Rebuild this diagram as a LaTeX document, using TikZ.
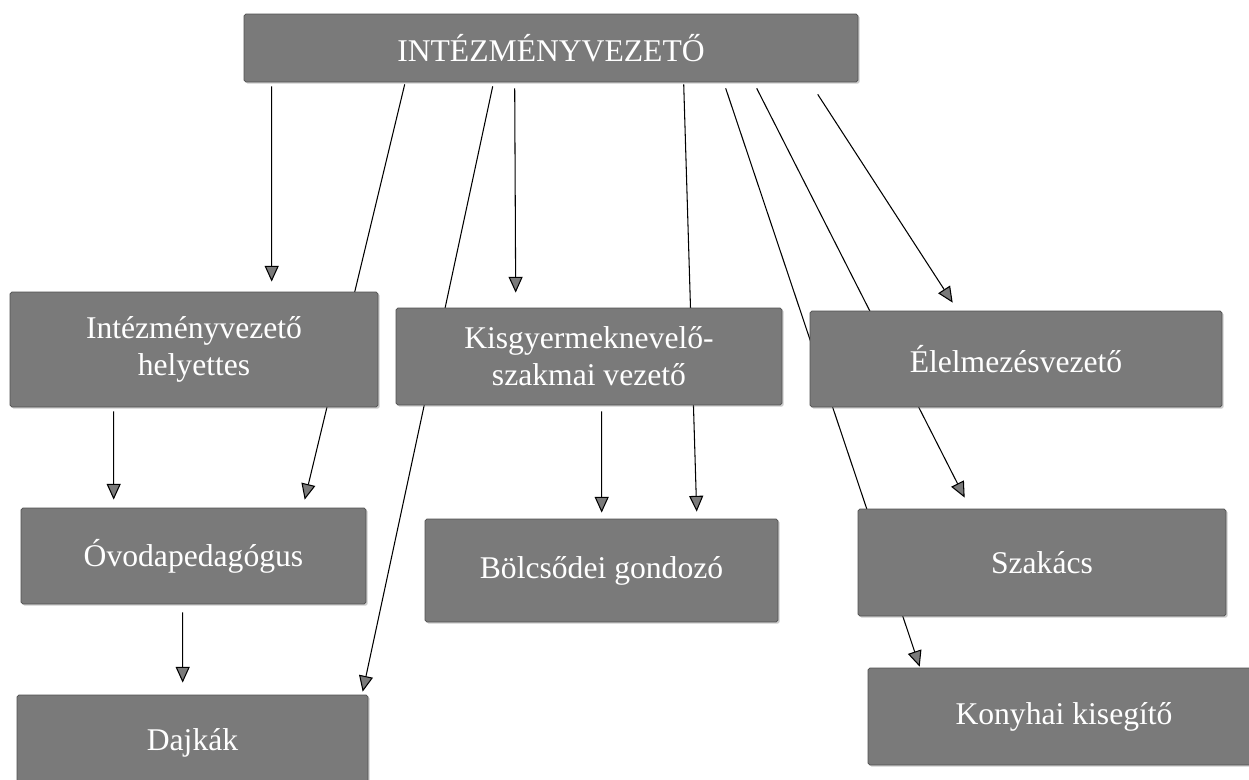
\documentclass[tikz,border=0pt]{standalone}
\usepackage{fontspec}
\setmainfont{Liberation Serif}
\usetikzlibrary{arrows.meta,backgrounds,calc,shadows}
\definecolor{boxgray}{RGB}{122,122,122}
\definecolor{boxedge}{RGB}{80,80,80}

\begin{document}
\begin{tikzpicture}
[x = 0.02cm, y = -0.02cm,
box/.style = {draw = boxedge, fill = boxgray, text = white, rounded corners = 1pt, inner sep = 0pt, align = center,
  font = \fontsize{18}{21}\selectfont, drop shadow = {shadow xshift = 1pt, shadow yshift = -1pt, opacity = 0.4}},
link/.style = {line width = 0.6pt, -{Triangle[length = 9pt, width = 8pt, fill = boxgray]}},
]
\useasboundingbox (0,0) rectangle (1249,780);
\node [box, minimum width = 12.28cm, minimum height = 1.36cm] (top) at (551,48) {INTÉZMÉNYVEZETŐ};
\node [box, minimum width = 7.36cm, minimum height = 2.3cm] (hel) at (194,349.5) {Intézményvezető\\helyettes};
\node [box, minimum width = 7.72cm, minimum height = 1.94cm] (kis) at (589,356.5) {Kisgyermeknevelő-\\szakmai vezető};
\node [box, minimum width = 8.24cm, minimum height = 1.92cm] (ele) at (1016,359) {Élelmezésvezető};
\node [box, minimum width = 6.9cm, minimum height = 1.92cm] (ovo) at (193.5,556) {Óvodapedagógus};
\node [box, minimum width = 7.06cm, minimum height = 2.06cm] (bol) at (601.5,570.5) {Bölcsődei gondozó};
\node [box, minimum width = 7.36cm, minimum height = 2.14cm] (sza) at (1042,562.5) {Szakács};
\node [box, minimum width = 7.02cm, minimum height = 1.92cm] (daj) at (192.5,743) {Dajkák};
\node [box, minimum width = 7.84cm, minimum height = 1.94cm] (kon) at (1064,716.5) {Konyhai kisegítő};
\begin{scope}[on background layer]
\draw [link] ($(top.south west)+(28,4)$) -- ($(hel.north west)+(262,-10)$);
\draw [link] ($(top.south west)+(161,2)$) -- ($(ovo.north west)+(284,-8)$);
\draw [link] ($(top.south west)+(249,4)$) -- ($(daj.north west)+(346,-3)$);
\draw [link] ($(top.south west)+(271,6)$) -- ($(kis.north west)+(120,-15)$);
\draw [link] ($(top.south west)+(440,2)$) -- ($(bol.north west)+(272,-7)$);
\draw [link] ($(top.south west)+(482,6)$) -- ($(kon.north west)+(52,-1)$);
\draw [link] ($(top.south west)+(513,6)$) -- ($(sza.north west)+(107,-11)$);
\draw [link] ($(top.south west)+(574,12)$) -- ($(ele.north west)+(143,-8)$);
\draw [link] ($(hel.south west)+(104,4)$) -- ($(ovo.north west)+(93,-8)$);
\draw [link] ($(kis.south west)+(206,6)$) -- ($(bol.north west)+(177,-6)$);
\draw [link] ($(ovo.south west)+(162,8)$) -- ($(daj.north west)+(166,-12)$);
\end{scope}
\end{tikzpicture}
\end{document}
